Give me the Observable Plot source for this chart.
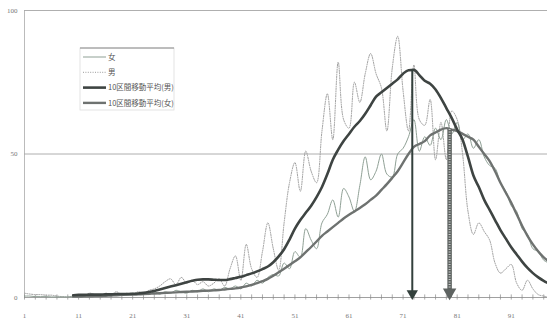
<!DOCTYPE html>
<html><head><meta charset="utf-8">
<script src="https://cdn.jsdelivr.net/npm/d3@7"></script>
<script src="https://cdn.jsdelivr.net/npm/@observablehq/plot@0.6"></script>
<style>
body{margin:0;background:#fff}
#chart{position:relative;width:547px;height:322px;overflow:hidden}
</style>
</head><body><div id="chart"></div>
<script>
// ages 1..98
const ages = d3.range(1, 99);
const xTickLabels = [1, 11, 21, 31, 41, 51, 61, 71, 81, 91];
const minorTicks = d3.range(1, 99, 2);
const yTicks = [0, 50, 100];
const gridValues = [50, 100];

// 女 (raw, thin solid)
const femaleRaw = [0.5,0.5,0.3,0.3,0.3,0.2,0.2,0.2,0.2,0.3,
  0.5,0.3,0.8,0.5,1.0,0.5,1.2,0.8,1.2,0.8,
  1.5,1.0,1.5,1.0,2.0,1.2,2.0,1.5,2.5,2.0,
  1.5,2.5,2.0,3.0,2.0,3.0,2.5,3.5,3.0,4.0,
  3.0,5.0,4.0,6.0,5.0,7.0,8.0,7.5,12,10,
  16,14,24,20,17,26,29,34,28,38,
  35,30,39,49,41,44,50,43,42,50,
  52,56,62,51,56,53,59,55,62,57,
  61,55,57,52,55,49,46,45,40,37,
  32,30,24,22,17,16,13,12];
// 男 (raw, dotted)
const maleRaw = [1.5,1.2,1.0,1.0,0.8,0.8,0.5,0.3,0.2,0.5,
  1.0,0.5,1.5,1.0,0.5,1.5,1.0,2.0,1.0,1.5,
  1.0,2.0,1.5,2.5,3.0,4.0,5.5,6.5,4.5,7.0,
  5.0,6.0,4.5,5.5,4.0,5.0,6.5,4.0,10,14.5,
  6.0,18.5,10,7.0,16,26,17,9.5,26,40,
  47,37,51,44,40,58,71,55,82,62,
  59,75,68,78,85,78,73,58,80,91,
  72,58,81,62,60,69,48,61,48,65,
  62,50,30,22,26,23,20,12,8.5,10,
  11.5,5.0,2.5,6.0,3.0,1.0,0.5,0];
// 10区間移動平均(男)
const maleAvg = [null,null,null,null,null,null,null,null,null,0.8,
  0.9,0.9,1.0,1.0,1.0,1.1,1.1,1.2,1.2,1.2,
  1.3,1.4,1.6,1.9,2.3,2.8,3.3,3.8,4.3,4.8,
  5.3,5.8,6.2,6.3,6.3,6.2,6.1,6.1,6.4,6.8,
  7.2,7.8,8.4,9.1,9.9,10.8,12.3,14.3,16.8,20.2,
  24,27,29.5,32,35,38.5,43,48,51.5,54.5,
  57,59.5,61.5,64,67,70,71.5,73,74.5,76,
  78,79.2,79.3,77.5,75.5,74.5,72.5,69.5,66,62.5,
  58.5,55,49,42.5,38.5,34,30.5,27,23.5,20.5,
  17.5,15,12.5,10.3,8.5,7.0,5.8,4.8];
// 10区間移動平均(女)
const femaleAvg = [null,null,null,null,null,null,null,null,null,0.3,
  0.3,0.4,0.4,0.5,0.5,0.6,0.7,0.8,0.9,1.0,
  1.0,1.1,1.2,1.3,1.4,1.5,1.6,1.7,1.8,1.9,
  2.0,2.1,2.2,2.3,2.4,2.5,2.6,2.8,3.0,3.2,
  3.5,3.9,4.4,5.0,5.7,6.5,7.6,8.8,10,11.3,
  12.6,14,15.8,17.6,19.5,21.5,23,24.5,26,27.5,
  28.8,30,31.2,32.5,34,35.5,37.5,39.5,41.7,44,
  47,50,52.5,53.5,54.5,56.5,57.5,58.5,59,58.5,
  58,57,56,55,52.5,50,47.5,44,40,36.5,
  33,29,25,21.5,18.5,16,14,12.5];

// arrows: age, top value, base value
const arrowAges = [72.7, 79.6];
const arrowTops = [79.3, 58.5];
const arrowBase = [0, 0];

const legendLabels = ["女", "男", "10区間移動平均(男)", "10区間移動平均(女)"];

const data = ages.map((a, i) => ({age: a, femaleRaw: femaleRaw[i], maleRaw: maleRaw[i], maleAvg: maleAvg[i], femaleAvg: femaleAvg[i]}));
const arrows = arrowAges.map((a, i) => ({age: a, top: arrowTops[i], base: arrowBase[i]}));

const C = {fRaw: "#8fa095", mRaw: "#9a9a9a", mAvg: "#3e4442", fAvg: "#6e7270", mArrow: "#33403c", fArrow: "#5e6361"};

const plot = Plot.plot({
  width: 547, height: 322,
  marginLeft: 24, marginRight: 0, marginTop: 10, marginBottom: 25,
  style: {fontFamily: "Liberation Serif, DejaVu Serif, serif", fontSize: "7px", color: "#777", background: "#fff"},
  x: {domain: [1, 97.7], label: null},
  y: {domain: [0, 100], label: null},
  marks: [
    Plot.ruleY(gridValues, {stroke: "#9a9a9a", strokeWidth: 0.8}),
    Plot.ruleX([1], {stroke: "#aaa", strokeWidth: 0.8}),
    Plot.ruleY([0], {stroke: "#888", strokeWidth: 0.8}),
    Plot.ruleX(minorTicks, {y1: -0.9, y2: 0.9, stroke: "#888", strokeWidth: 0.7}),
    Plot.axisX({ticks: xTickLabels, tickSize: 0, tickPadding: 16, fill: "#777", label: null}),
    Plot.axisY({ticks: yTicks, tickSize: 0, tickPadding: 7, fill: "#777", label: null}),
    Plot.line(data, {x: "age", y: "maleRaw", stroke: C.mRaw, strokeWidth: 1, strokeDasharray: "1,1.4", curve: "catmull-rom"}),
    Plot.line(data, {x: "age", y: "femaleRaw", stroke: C.fRaw, strokeWidth: 1, curve: "catmull-rom"}),
    Plot.line(data, {x: "age", y: "femaleAvg", stroke: C.fAvg, strokeWidth: 2.4, curve: "monotone-x"}),
    Plot.line(data, {x: "age", y: "maleAvg", stroke: C.mAvg, strokeWidth: 2.6, curve: "monotone-x"}),
    // female arrow (thick, hatched look)
    Plot.ruleX(arrows.slice(1), {x: "age", y1: "top", y2: "base", stroke: C.fArrow, strokeWidth: 4.5}),
    Plot.ruleX(arrows.slice(1), {x: "age", y1: "top", y2: "base", stroke: "#c8cccb", strokeWidth: 2, strokeDasharray: "1,1.5"}),
    // male arrow
    Plot.ruleX(arrows.slice(0, 1), {x: "age", y1: "top", y2: "base", stroke: C.mArrow, strokeWidth: 2}),
    Plot.dot(arrows.slice(0, 1), {x: "age", y: "base", symbol: "triangle", r: 4.2, fill: C.mArrow, rotate: 180, dy: -4}),
    Plot.dot(arrows.slice(1), {x: "age", y: "base", symbol: "triangle", r: 5, fill: C.fArrow, rotate: 180, dy: -5})
  ]
});
document.getElementById("chart").appendChild(plot);

// legend inside the plot area
const svg = d3.select(plot);
const lg = svg.append("g").attr("transform", "translate(80,48)").attr("text-anchor", "start");
lg.append("rect").attr("x", 0).attr("y", 0).attr("width", 94).attr("height", 62)
  .attr("fill", "#fff").attr("stroke", "#ddd").attr("stroke-width", 0.8);
lg.append("line").attr("x1", 0).attr("x2", 94).attr("y1", 0).attr("y2", 0).attr("stroke", "#888").attr("stroke-width", 1);
const styles = [
  {stroke: C.fRaw, w: 1, dash: null},
  {stroke: C.mRaw, w: 1, dash: "1,1.4"},
  {stroke: C.mAvg, w: 2.6, dash: null},
  {stroke: C.fAvg, w: 2.4, dash: null}
];
legendLabels.forEach((t, i) => {
  const y = 9 + i * 15.3;
  lg.append("line").attr("x1", 3).attr("x2", 26).attr("y1", y).attr("y2", y)
    .attr("stroke", styles[i].stroke).attr("stroke-width", styles[i].w)
    .attr("stroke-dasharray", styles[i].dash);
  lg.append("text").attr("x", 28).attr("y", y).attr("dy", "0.35em").attr("text-anchor", "start")
    .attr("font-family", "Noto Sans CJK JP, sans-serif").attr("font-size", 7.5).attr("fill", "#555").text(t);
});
</script>
</body></html>
